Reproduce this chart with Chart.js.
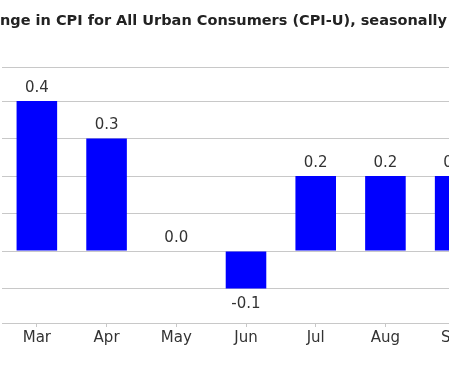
<!DOCTYPE html>
<html>
<head>
<meta charset="utf-8">
<script src="https://cdn.jsdelivr.net/npm/chart.js@4.4.1/dist/chart.umd.min.js"></script>
<style>
html, body { margin: 0; padding: 0; overflow: hidden; width: 449px; height: 375px; background: #ffffff; }
#wrap { position: absolute; top: 0; left: 0; }
canvas { display: block; }
</style>
</head>
<body>
<div id="wrap"><canvas id="chart"></canvas></div>
<script>
// ---- data ----
const months = ['Mar', 'Apr', 'May', 'Jun', 'Jul', 'Aug', 'Sep'];
const cpiChange = [0.4, 0.3, 0.0, -0.1, 0.2, 0.2, 0.2];
const yGridValues = [-0.1, 0.0, 0.1, 0.2, 0.3, 0.4];
const yMin = -0.192;
const yMax = 0.491;
const titleText = 'One-month percent change in CPI for All Urban Consumers (CPI-U), seasonally adjusted';
const hiddenTitlePrefix = 'One-month percent cha';

// ---- layout ----
const FONT = "'DejaVu Sans'";
const TITLE_SIZE = 14.5;
const measure = document.createElement('canvas').getContext('2d');
measure.font = 'bold ' + TITLE_SIZE + 'px ' + FONT;
const prefixW = measure.measureText(hiddenTitlePrefix).width;
const titleW = measure.measureText(titleText).width;
const shift = Math.round(prefixW);
const plotLeft = shift + 2;                     // plot area left edge in canvas coords
const plotWidth = 488;                          // 7 categories
const canvasW = Math.ceil(Math.max(plotLeft + plotWidth, titleW) + 12);
const canvasH = 375;

const canvas = document.getElementById('chart');
canvas.width = canvasW;
canvas.height = canvasH;
canvas.style.width = canvasW + 'px';
canvas.style.height = canvasH + 'px';
document.getElementById('wrap').style.left = (-shift) + 'px';

// let the title use the whole canvas width (so it is not squeezed by the right padding)
const wideTitle = {
  id: 'wideTitle',
  afterLayout(chart) {
    if (chart.titleBlock) {
      chart.titleBlock.left = 0;
      chart.titleBlock.right = chart.width;
      chart.titleBlock.width = chart.width;
    }
  }
};

const valueLabels = {
  id: 'valueLabels',
  afterDatasetsDraw(chart) {
    const ctx = chart.ctx;
    const meta = chart.getDatasetMeta(0);
    ctx.save();
    ctx.font = '15px ' + FONT;
    ctx.fillStyle = '#333333';
    ctx.textAlign = 'center';
    ctx.textBaseline = 'alphabetic';
    meta.data.forEach((bar, i) => {
      const v = cpiChange[i];
      const y = v < 0 ? bar.y + 19.5 : bar.y - 9.5;
      ctx.fillText(v.toFixed(1), bar.x, y);
    });
    ctx.restore();
  }
};

new Chart(canvas, {
  type: 'bar',
  data: {
    labels: months,
    datasets: [{
      data: cpiChange,
      backgroundColor: '#0000ff',
      borderWidth: 0,
      categoryPercentage: 1.0,
      barPercentage: 0.582
    }]
  },
  options: {
    responsive: false,
    animation: false,
    devicePixelRatio: 1,
    layout: { padding: { left: 0, right: canvasW - plotLeft - plotWidth, top: 0, bottom: 0 } },
    plugins: {
      legend: { display: false },
      tooltip: { enabled: false },
      title: {
        display: true,
        text: titleText,
        align: 'start',
        color: '#222222',
        font: { family: FONT, size: TITLE_SIZE, weight: 'bold', lineHeight: 1.2 },
        padding: { top: 12.8, bottom: 36.8 }
      }
    },
    scales: {
      x: {
        offset: true,
        grid: { display: true, drawOnChartArea: false, drawTicks: true, tickLength: 4, offset: false, color: '#c8c8c8' },
        border: { display: true, color: '#c8c8c8', width: 1 },
        ticks: { color: '#333333', font: { family: FONT, size: 15 }, padding: 2, maxRotation: 0, autoSkip: false },
        afterFit(scale) { scale.height = canvasH - 323; }
      },
      y: {
        min: yMin,
        max: yMax,
        afterBuildTicks(scale) {
          scale.ticks = [yMin, ...yGridValues, yMax].map(v => ({ value: v }));
        },
        grid: { color: '#c8c8c8', lineWidth: 1, drawTicks: false },
        border: { display: false },
        ticks: { color: '#333333', font: { family: FONT, size: 15 }, callback: v => Number(v).toFixed(1) },
        afterFit(scale) { scale.width = plotLeft; }
      }
    }
  },
  plugins: [wideTitle, valueLabels]
});
</script>
</body>
</html>
